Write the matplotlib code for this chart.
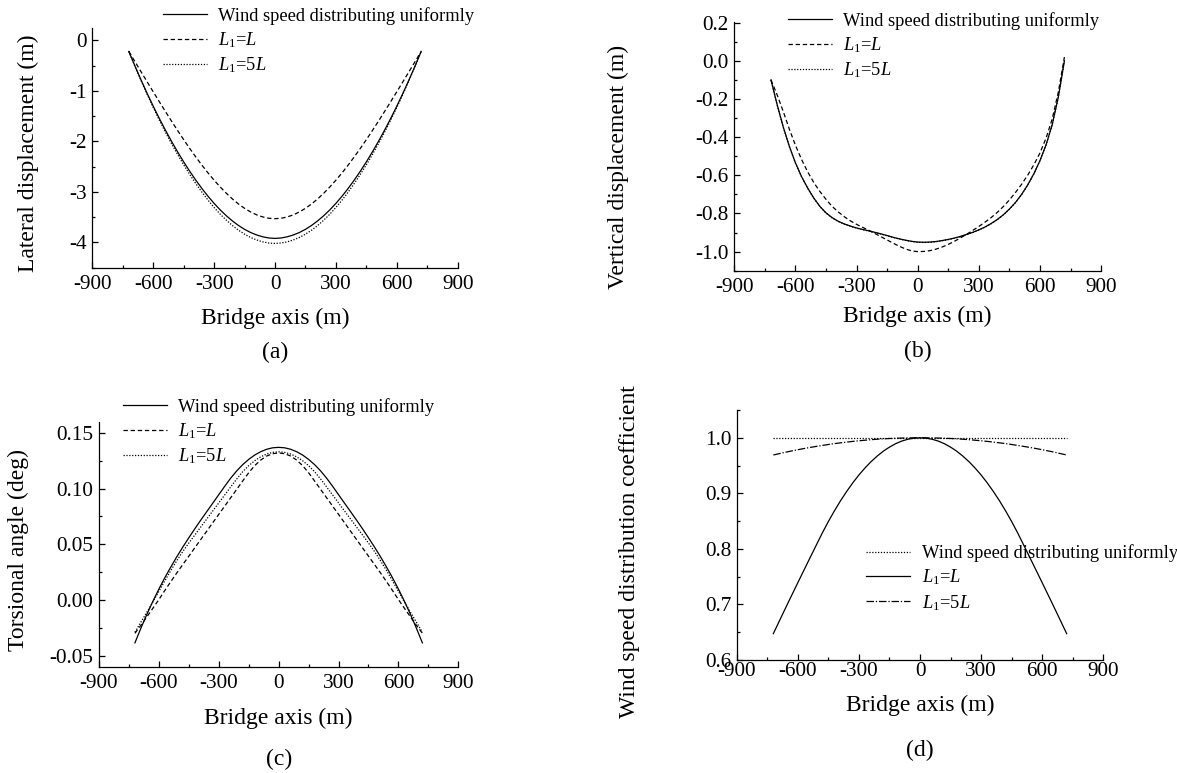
import matplotlib
matplotlib.use('Agg')
import matplotlib.pyplot as plt
from matplotlib.ticker import MultipleLocator, FormatStrFormatter

plt.rcParams['font.family'] = ['Liberation Serif', 'DejaVu Serif']
plt.rcParams['mathtext.fontset'] = 'custom'
plt.rcParams['mathtext.rm'] = 'Liberation Serif'
plt.rcParams['mathtext.it'] = 'Liberation Serif:italic'
plt.rcParams['axes.unicode_minus'] = False

# bridge axis positions (m)
bridge_x = [-720, -690, -660, -630, -600, -570, -540, -510, -480, -450, -420, -390, -360,
            -330, -300, -270, -240, -210, -180, -150, -120, -90, -60, -30, 0,
            30, 60, 90, 120, 150, 180, 210, 240, 270, 300, 330, 360,
            390, 420, 450, 480, 510, 540, 570, 600, 630, 660, 690, 720]

# (a) lateral displacement (m)
lat_uniform = [-0.22, -0.507, -0.783, -1.048, -1.302, -1.545, -1.776, -1.997, -2.206, -2.405, -2.592, -2.768,
               -2.933, -3.086, -3.227, -3.356, -3.471, -3.574, -3.664, -3.741, -3.804, -3.853, -3.889, -3.912,
               -3.92,
               -3.912, -3.889, -3.853, -3.804, -3.741, -3.664, -3.574, -3.471, -3.356, -3.227, -3.086, -2.933,
               -2.768, -2.592, -2.405, -2.206, -1.997, -1.776, -1.545, -1.302, -1.048, -0.783, -0.507, -0.22]
lat_L = [-0.22, -0.421, -0.621, -0.82, -1.018, -1.214, -1.407, -1.597, -1.784, -1.965, -2.141, -2.309,
         -2.471, -2.624, -2.768, -2.902, -3.026, -3.139, -3.239, -3.325, -3.397, -3.455, -3.496, -3.522,
         -3.53,
         -3.522, -3.496, -3.455, -3.397, -3.325, -3.239, -3.139, -3.026, -2.902, -2.768, -2.624, -2.471,
         -2.309, -2.141, -1.965, -1.784, -1.597, -1.407, -1.214, -1.018, -0.82, -0.621, -0.421, -0.22]
lat_5L = [-0.22, -0.513, -0.795, -1.067, -1.328, -1.578, -1.816, -2.043, -2.258, -2.463, -2.655, -2.836,
          -3.006, -3.163, -3.308, -3.441, -3.559, -3.665, -3.758, -3.837, -3.902, -3.952, -3.989, -4.012,
          -4.02,
          -4.012, -3.989, -3.952, -3.902, -3.837, -3.758, -3.665, -3.559, -3.441, -3.308, -3.163, -3.006,
          -2.836, -2.655, -2.463, -2.258, -2.043, -1.816, -1.578, -1.328, -1.067, -0.795, -0.513, -0.22]

# (b) vertical displacement (m)
vert_uniform = [-0.100, -0.229, -0.346, -0.448, -0.535, -0.607, -0.667, -0.719, -0.763, -0.797, -0.822, -0.841,
                -0.855, -0.866, -0.876, -0.884, -0.891, -0.899, -0.907, -0.916, -0.925, -0.933, -0.940, -0.946,
                -0.950,
                -0.951, -0.950, -0.947, -0.942, -0.936, -0.929, -0.920, -0.910, -0.899, -0.886, -0.871, -0.853,
                -0.832, -0.807, -0.777, -0.742, -0.700, -0.650, -0.592, -0.523, -0.440, -0.335, -0.190, 0.0]
vert_L = [-0.100, -0.178, -0.265, -0.358, -0.443, -0.517, -0.582, -0.638, -0.685, -0.726, -0.763, -0.792,
          -0.817, -0.839, -0.857, -0.873, -0.888, -0.905, -0.922, -0.939, -0.956, -0.972, -0.986, -0.996,
          -1.0,
          -0.999, -0.995, -0.987, -0.976, -0.962, -0.946, -0.928, -0.909, -0.889, -0.868, -0.846, -0.822,
          -0.795, -0.764, -0.729, -0.690, -0.647, -0.599, -0.545, -0.483, -0.405, -0.305, -0.165, 0.02]
vert_5L = [-0.100, -0.231, -0.348, -0.449, -0.536, -0.608, -0.668, -0.720, -0.764, -0.798, -0.823, -0.842,
           -0.856, -0.867, -0.877, -0.885, -0.892, -0.900, -0.908, -0.917, -0.926, -0.934, -0.941, -0.947,
           -0.951,
           -0.952, -0.951, -0.948, -0.943, -0.937, -0.930, -0.921, -0.911, -0.900, -0.887, -0.872, -0.854,
           -0.833, -0.808, -0.778, -0.743, -0.701, -0.651, -0.593, -0.524, -0.441, -0.336, -0.191, 0.0]

# (c) torsional angle (deg)
tors_uniform = [-0.0386, -0.0254, -0.0129, -0.0012, 0.0097, 0.0200, 0.0296, 0.0388, 0.0475, 0.0558, 0.0639, 0.0717,
                0.0793, 0.0869, 0.0945, 0.1021, 0.1094, 0.1159, 0.1215, 0.1262, 0.1301, 0.1331, 0.1353, 0.1366,
                0.137,
                0.1366, 0.1353, 0.1331, 0.1301, 0.1262, 0.1215, 0.1159, 0.1094, 0.1021, 0.0945, 0.0869, 0.0793,
                0.0717, 0.0639, 0.0558, 0.0475, 0.0388, 0.0296, 0.0200, 0.0097, -0.0012, -0.0129, -0.0254, -0.0386]
tors_L = [-0.030, -0.0228, -0.0152, -0.0075, 0.0003, 0.0085, 0.0165, 0.0243, 0.0318, 0.0393, 0.0468, 0.0543,
          0.0618, 0.0693, 0.0768, 0.0843, 0.0918, 0.0993, 0.1068, 0.1142, 0.1206, 0.1256, 0.1292, 0.1313,
          0.132,
          0.1313, 0.1292, 0.1256, 0.1206, 0.1142, 0.1068, 0.0993, 0.0918, 0.0843, 0.0768, 0.0693, 0.0618,
          0.0543, 0.0468, 0.0393, 0.0318, 0.0243, 0.0165, 0.0085, 0.0003, -0.0075, -0.0152, -0.0228, -0.030]
tors_5L = [-0.029, -0.020, -0.011, -0.0018, 0.0077, 0.0172, 0.0265, 0.0353, 0.0435, 0.0511, 0.0583, 0.0655,
           0.0727, 0.0799, 0.0871, 0.0943, 0.1015, 0.1086, 0.1151, 0.1206, 0.125, 0.1285, 0.131, 0.1325,
           0.133,
           0.1325, 0.131, 0.1285, 0.125, 0.1206, 0.1151, 0.1086, 0.1015, 0.0943, 0.0871, 0.0799, 0.0727,
           0.0655, 0.0583, 0.0511, 0.0435, 0.0353, 0.0265, 0.0172, 0.0077, -0.0018, -0.011, -0.020, -0.029]

# (d) wind speed distribution coefficient
coef_uniform = [1.0] * 49
coef_L = [0.6474, 0.6706, 0.6936, 0.7164, 0.739, 0.7615, 0.7839, 0.8062, 0.8284, 0.8491, 0.8686, 0.8867,
          0.9034, 0.9189, 0.933, 0.9457, 0.9571, 0.9671, 0.9759, 0.9832, 0.9893, 0.994, 0.9973, 0.9993,
          1.0,
          0.9993, 0.9973, 0.994, 0.9893, 0.9832, 0.9759, 0.9671, 0.9571, 0.9457, 0.933, 0.9189, 0.9034,
          0.8867, 0.8686, 0.8491, 0.8284, 0.8062, 0.7839, 0.7615, 0.739, 0.7164, 0.6936, 0.6706, 0.6474]
coef_5L = [0.969, 0.9715, 0.974, 0.9763, 0.9785, 0.9806, 0.9826, 0.9844, 0.9862, 0.9879, 0.9895, 0.9909,
           0.9922, 0.9935, 0.9946, 0.9956, 0.9966, 0.9974, 0.9981, 0.9987, 0.9991, 0.9995, 0.9998, 0.9999,
           1.0,
           0.9999, 0.9998, 0.9995, 0.9991, 0.9987, 0.9981, 0.9974, 0.9966, 0.9956, 0.9946, 0.9935, 0.9922,
           0.9909, 0.9895, 0.9879, 0.9862, 0.9844, 0.9826, 0.9806, 0.9785, 0.9763, 0.974, 0.9715, 0.969]

lbl_uni = 'Wind speed distributing uniformly'
lbl_L = r'$L_\mathrm{1}$=$L$'
lbl_5L = r'$L_\mathrm{1}$=5$L$'

LW = 0.9
DASH = (0, (3.5, 2.2))
DOT = (0, (1.0, 1.3))
DASHDOT = (0, (6, 1.5, 1, 1.5))

fig = plt.figure(figsize=(11.77, 7.73), dpi=100)


def setup(ax, ylim, ymaj, ymin, yfmt, ylabel, ylab_xy, xlab_y, tag, tag_y, xpad=5):
    ax.set_xlim(-900, 900)
    ax.set_ylim(*ylim)
    ax.xaxis.set_major_locator(MultipleLocator(300))
    ax.xaxis.set_minor_locator(MultipleLocator(150))
    ax.yaxis.set_major_locator(MultipleLocator(ymaj))
    ax.yaxis.set_minor_locator(MultipleLocator(ymin))
    ax.yaxis.set_major_formatter(FormatStrFormatter(yfmt))
    for s in ['top', 'right']:
        ax.spines[s].set_visible(False)
    for s in ['left', 'bottom']:
        ax.spines[s].set_linewidth(0.9)
    ax.tick_params(which='both', direction='in', width=0.9, labelsize=15.3)
    ax.tick_params(which='major', length=4)
    ax.tick_params(which='minor', length=2.2)
    ax.tick_params(axis='x', pad=xpad)
    ax.tick_params(axis='y', pad=4)
    ax.set_xlabel('Bridge axis (m)', fontsize=17, va='center')
    ax.xaxis.set_label_coords(0.5, xlab_y)
    ax.set_ylabel(ylabel, fontsize=17, va='center')
    ax.yaxis.set_label_coords(*ylab_xy)
    ax.text(0.5, tag_y, tag, transform=ax.transAxes, fontsize=17, ha='center', va='center')


def add_legend(ax, anchor):
    ax.legend(loc='upper left', bbox_to_anchor=anchor, frameon=False, fontsize=13.3,
              handlelength=2.4, handletextpad=0.6, labelspacing=0.3,
              borderpad=0, borderaxespad=0)


# (a)
ax = fig.add_axes([0.0784, 0.6537, 0.3105, 0.3105])
ax.plot(bridge_x, lat_uniform, color='black', lw=LW, label=lbl_uni)
ax.plot(bridge_x, lat_L, color='black', lw=LW, ls=DASH, label=lbl_L)
ax.plot(bridge_x, lat_5L, color='black', lw=LW, ls=DOT, label=lbl_5L)
setup(ax, (-4.5, 0.25), 1, 0.5, '%d', 'Lateral displacement (m)', (-0.176, 0.478), -0.21, '(a)', -0.355)
add_legend(ax, (0.1935, 1.086))

# (b)
ax = fig.add_axes([0.6239, 0.6498, 0.3116, 0.3221])
ax.plot(bridge_x, vert_uniform, color='black', lw=LW, label=lbl_uni)
ax.plot(bridge_x, vert_L, color='black', lw=LW, ls=DASH, label=lbl_L)
ax.plot(bridge_x, vert_5L, color='black', lw=LW, ls=DOT, label=lbl_5L)
setup(ax, (-1.1, 0.205), 0.2, 0.1, '%.1f', 'Vertical displacement (m)', (-0.317, 0.418), -0.185, '(b)', -0.325)
add_legend(ax, (0.146, 1.04))

# (c)
ax = fig.add_axes([0.0841, 0.1375, 0.3053, 0.3169])
ax.plot(bridge_x, tors_uniform, color='black', lw=LW, label=lbl_uni)
ax.plot(bridge_x, tors_L, color='black', lw=LW, ls=DASH, label=lbl_L)
ax.plot(bridge_x, tors_5L, color='black', lw=LW, ls=DOT, label=lbl_5L)
setup(ax, (-0.06, 0.16), 0.05, 0.025, '%.2f', 'Torsional angle (deg)', (-0.225, 0.476), -0.209, '(c)', -0.38)
add_legend(ax, (0.066, 1.098))

# (d)
ax = fig.add_axes([0.6259, 0.1462, 0.3115, 0.3234])
ax.plot(bridge_x, coef_uniform, color='black', lw=LW, ls=DOT, label=lbl_uni)
ax.plot(bridge_x, coef_L, color='black', lw=LW, label=lbl_L)
ax.plot(bridge_x, coef_5L, color='black', lw=LW, ls=DASHDOT, label=lbl_5L)
setup(ax, (0.6, 1.05), 0.1, 0.05, '%.1f', 'Wind speed distribution coefficient', (-0.292, 0.432), -0.18, '(d)', -0.36, xpad=1.5)
add_legend(ax, (0.353, 0.463))

fig.savefig('out.png', dpi=100)
